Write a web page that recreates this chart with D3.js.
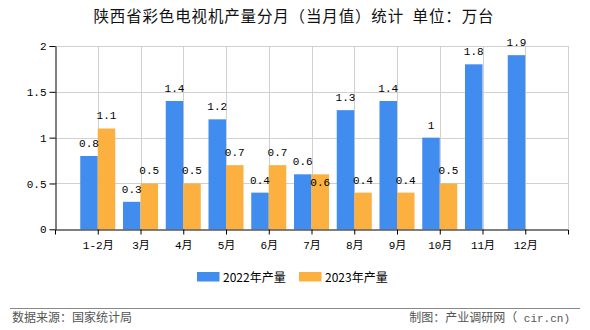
<!DOCTYPE html>
<html><head><meta charset="utf-8">
<script src="https://cdn.jsdelivr.net/npm/d3@7/dist/d3.min.js"></script>
<style>
html,body{margin:0;padding:0;background:#fff;}
svg{display:block;}
</style></head>
<body>
<svg id="chart" width="590" height="330"></svg>
<script>
const categories = ["1-2月","3月","4月","5月","6月","7月","8月","9月","10月","11月","12月"];
const series2022 = [0.8,0.3,1.4,1.2,0.4,0.6,1.3,1.4,1,1.8,1.9];
const series2023 = [1.1,0.5,0.5,0.7,0.7,0.6,0.4,0.4,0.5,null,null];
const seriesNames = ["2022年产量","2023年产量"];
const yTicks = [0,0.5,1,1.5,2];
const title = "陕西省彩色电视机产量分月（当月值）统计  单位：万台";
const sourceText = "数据来源：国家统计局";
const creditCJK = "制图：产业调研网（";
const creditLatin = " cir.cn)";

const colors = ["#418CEF","#FBB03F"];
const svg = d3.select("#chart");
const L = 55, R = 568, T = 46, B = 229.3;
const numFont = "'Liberation Mono','DejaVu Sans Mono','Noto Sans CJK SC',monospace";
const cjkFont = "'Noto Sans CJK SC','DejaVu Sans',sans-serif";

const x = d3.scalePoint().domain(categories).range([L, R]).padding(1);
const y = d3.scaleLinear().domain([0, 2]).range([B, T]);
const barW = 17.5;

// title
svg.append("text").attr("x", 93.5).attr("y", 22).attr("xml:space","preserve").style("white-space","pre")
  .attr("textLength", 400).attr("lengthAdjust","spacing")
  .attr("font-family", cjkFont).attr("font-size", 15.5).attr("fill","#111").text(title);

// grid
const g = svg.append("g");
g.selectAll("line.hg").data(yTicks.filter(d=>d>0)).join("line")
  .attr("x1", L).attr("x2", R).attr("y1", d=>Math.round(y(d))+0.5).attr("y2", d=>Math.round(y(d))+0.5)
  .attr("stroke","#d0d0d0");
g.selectAll("line.vg").data(categories).join("line")
  .attr("x1", d=>Math.round(x(d))+0.5).attr("x2", d=>Math.round(x(d))+0.5)
  .attr("y1", T).attr("y2", B).attr("stroke","#d0d0d0");
g.append("line").attr("x1", R+0.5).attr("x2", R+0.5).attr("y1", T).attr("y2", B).attr("stroke","#d0d0d0");

// bars
const bars = svg.append("g");
const data = categories.map((c,i)=>({c, v:[series2022[i], series2023[i]]}));
[0,1].forEach(s=>{
  bars.selectAll("rect.s"+s).data(data.filter(d=>d.v[s]!=null)).join("rect")
    .attr("x", d=> s===0 ? x(d.c)-barW : x(d.c))
    .attr("width", barW)
    .attr("y", d=>y(d.v[s]))
    .attr("height", d=>y(0)-y(d.v[s]))
    .attr("fill", colors[s]);
});

// value labels
const labels = svg.append("g").attr("font-family", numFont).attr("font-size", 11).attr("fill","#000").attr("text-anchor","middle");
data.forEach(d=>{
  const y0 = d.v[0]!=null ? y(d.v[0]) - 9 : null;
  if (d.v[0]!=null) labels.append("text").attr("x", x(d.c)-barW/2).attr("y", y0).text(d.v[0]);
  if (d.v[1]!=null) {
    let y1 = y(d.v[1]) - 9;
    if (y0!=null && Math.abs(y1-y0) < 12) y1 += 21;
    labels.append("text").attr("x", x(d.c)+barW/2).attr("y", y1).text(d.v[1]);
  }
});

// y axis
const yAxis = svg.append("g").attr("transform",`translate(${L+0.5},0)`)
  .call(d3.axisLeft(y).tickValues(yTicks).tickSize(6).tickSizeOuter(0).tickFormat(d=>d));
yAxis.select(".domain").attr("stroke","#000");
yAxis.selectAll(".tick line").attr("stroke","#000");
yAxis.selectAll(".tick text").attr("font-family", numFont).attr("font-size", 11).attr("fill","#000").attr("x",-9);

// x axis
const xAxis = svg.append("g").attr("transform",`translate(0,${Math.round(B)+0.5})`)
  .call(d3.axisBottom(x).tickSize(5).tickSizeOuter(5));
xAxis.select(".domain").attr("stroke","#000");
xAxis.selectAll(".tick line").attr("stroke","#000");
xAxis.selectAll(".tick text").attr("font-family", numFont).attr("font-size", 11).attr("fill","#000").attr("dy","1.05em");

// legend
const lg = svg.append("g").attr("font-family", cjkFont).attr("font-size", 12);
const legX = [197, 299];
seriesNames.forEach((n,i)=>{
  lg.append("rect").attr("x", legX[i]).attr("y", 272).attr("width", 22.5).attr("height", 9.5).attr("fill", colors[i]);
  lg.append("text").attr("x", legX[i]+26).attr("y", 281.5).attr("fill","#000").text(n);
});

// footer
svg.append("line").attr("x1",10).attr("x2",580).attr("y1",308.5).attr("y2",308.5).attr("stroke","#888");
svg.append("text").attr("x",12).attr("y",321.5).attr("font-family",cjkFont).attr("font-size",12).attr("fill","#555").text(sourceText);
const credit = svg.append("text").attr("x",570).attr("y",321.5).attr("text-anchor","end")
  .attr("xml:space","preserve").style("white-space","pre").attr("fill","#555");
credit.append("tspan").attr("font-family",cjkFont).attr("font-size",12).text(creditCJK);
credit.append("tspan").attr("font-family",numFont).attr("font-size",11).text(creditLatin);
</script>
</body></html>
